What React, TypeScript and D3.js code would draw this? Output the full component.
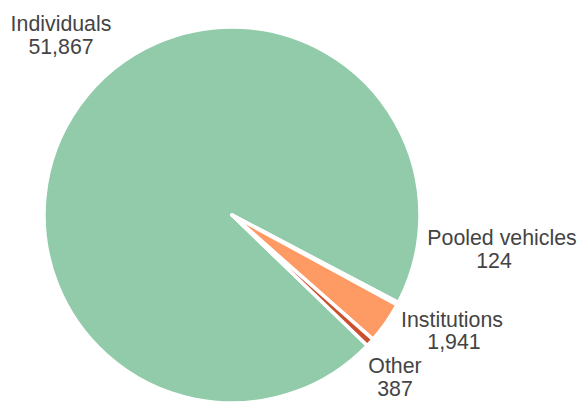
import React from "react";
import * as d3 from "d3";

const categories = ["Individuals", "Pooled vehicles", "Institutions", "Other"];
const values = [51867, 124, 1941, 387];
const valueLabels = ["51,867", "124", "1,941", "387"];
const colors = ["#91cbaa", "#8da0cb", "#fe9a64", "#c9502f"];

// label anchors (layout only): [x line1, y line1, x line2, y line2]
const labelPos = [
  [61, 31, 61, 54],
  [502, 245, 494, 268],
  [452, 327, 454, 349],
  [395, 373, 395, 396],
];

const W = 579;
const H = 402;
const CX = 232;
const CY = 215;
const R = 188;
const START_DEG = 134;

export default function App() {
  const data = categories.map((c, i) => ({ name: c, value: values[i], i }));
  const pie = d3
    .pie<any>()
    .sort(null)
    .value((d: any) => d.value)
    .startAngle((START_DEG * Math.PI) / 180)
    .endAngle(((START_DEG + 360) * Math.PI) / 180);
  const arcs = pie(data);
  const arcGen = d3.arc<any>().innerRadius(0).outerRadius(R);
  const color = d3.scaleOrdinal<string, string>().domain(categories).range(colors);

  return (
    <svg
      width={W}
      height={H}
      style={{ position: "absolute", left: 0, top: 0, background: "#fff" }}
    >
      <g transform={`translate(${CX},${CY})`}>
        {arcs.map((a: any) => (
          <path
            key={a.data.name}
            d={arcGen(a) as string}
            fill={color(a.data.name)}
            stroke="#fff"
            strokeWidth={3.5}
            strokeLinejoin="round"
          />
        ))}
      </g>
      {categories.map((c, i) => (
        <text
          key={c}
          fill="#444"
          fontFamily="'Liberation Sans', Arial, sans-serif"
          fontSize={21.33}
          textAnchor="middle"
        >
          <tspan x={labelPos[i][0]} y={labelPos[i][1]}>{c}</tspan>
          <tspan x={labelPos[i][2]} y={labelPos[i][3]}>{valueLabels[i]}</tspan>
        </text>
      ))}
    </svg>
  );
}
